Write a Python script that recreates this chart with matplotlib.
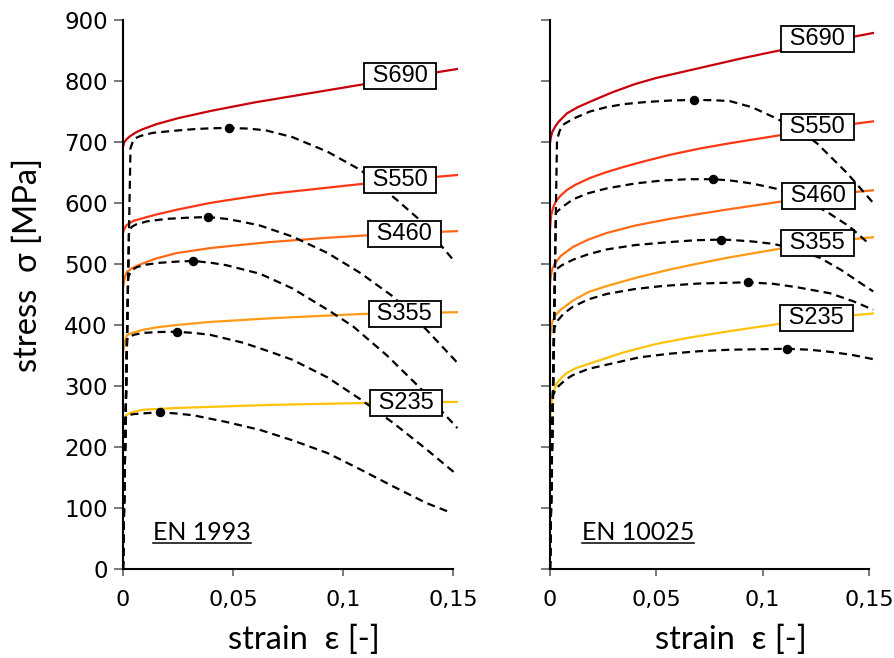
import matplotlib
matplotlib.use('Agg')
import matplotlib.pyplot as plt
from matplotlib.lines import Line2D
from matplotlib.transforms import IdentityTransform

grades = ['S690', 'S550', 'S460', 'S355', 'S235']
colors = ['#c8000c', '#ff3614', '#ff6a14', '#ff9a14', '#ffc20a']

# EN 1993 (left) - solid curves
en1993_solid_eps = [
    [0, 0.0005, 0.0015, 0.003, 0.006, 0.009, 0.015, 0.025, 0.04, 0.06, 0.08, 0.1, 0.125, 0.1525],
    [0, 0.0008, 0.0015, 0.003, 0.005, 0.009, 0.015, 0.0245, 0.0395, 0.05, 0.067, 0.085, 0.108, 0.13, 0.1525],
    [0, 0.0008, 0.0018, 0.004, 0.009, 0.015, 0.0245, 0.0395, 0.05, 0.067, 0.093, 0.12, 0.1525],
    [0, 0.0008, 0.0018, 0.004, 0.009, 0.015, 0.0245, 0.0395, 0.067, 0.108, 0.1525],
    [0, 0.0006, 0.0014, 0.004, 0.009, 0.0245, 0.067, 0.108, 0.1525],
]
en1993_solid_sig = [
    [692, 699, 704, 709, 716, 721, 729, 739, 751, 765, 777, 789, 804, 820],
    [551, 559, 563, 567, 571, 575, 581, 589, 600, 606, 615, 622, 631, 639, 646],
    [461, 478, 487, 493, 501, 509, 518, 526, 530, 536, 543, 549, 554],
    [354, 373, 383, 387, 392, 396, 400, 405, 411, 418, 421],
    [233, 245, 252, 257, 261, 264, 269, 272, 274],
]
# EN 1993 (left) - dashed curves
en1993_dash_eps = [
    [0, 0.0034, 0.0045, 0.0055, 0.008, 0.0136, 0.022, 0.032, 0.04, 0.048, 0.057, 0.065,
     0.077, 0.093, 0.108, 0.1245, 0.134, 0.151],
    [0, 0.0027, 0.004, 0.006, 0.011, 0.02, 0.03, 0.0386, 0.047, 0.0545, 0.0623, 0.077,
     0.093, 0.108, 0.123, 0.138, 0.152],
    [0, 0.0023, 0.004, 0.0064, 0.0105, 0.0168, 0.025, 0.032, 0.04, 0.047, 0.0623, 0.077,
     0.093, 0.1045, 0.12, 0.135, 0.152],
    [0, 0.0018, 0.0023, 0.005, 0.009, 0.0165, 0.0245, 0.032, 0.0395, 0.0545, 0.067, 0.077,
     0.093, 0.108, 0.123, 0.138, 0.152],
    [0, 0.0012, 0.002, 0.005, 0.009, 0.0168, 0.024, 0.032, 0.047, 0.0623, 0.077, 0.093,
     0.108, 0.123, 0.138, 0.1486],
]
en1993_dash_sig = [
    [0, 690, 701, 706, 710, 715, 718, 721, 722.5, 723, 722, 719, 708, 684, 654, 605, 575, 503],
    [0, 553, 561, 565, 570, 574, 576, 577, 574, 569, 563, 545, 518, 485, 446, 392, 338],
    [0, 478, 490, 495, 499, 502, 504, 505, 502, 498, 484, 460, 425, 398, 350, 297, 231],
    [0, 375, 380, 384, 387, 388.5, 389, 387, 384, 371, 356, 343, 314, 278, 239, 196, 154],
    [0, 247, 252, 254, 255, 257, 255, 252, 241, 228, 211, 190, 163, 135, 108, 93],
]
en1993_peak_eps = [0.048, 0.0386, 0.032, 0.0245, 0.0168]
en1993_peak_sig = [723, 577, 505, 389, 257]

# EN 10025 (right) - solid curves
en10025_solid_eps = [
    [0, 0.0003, 0.001, 0.0024, 0.004, 0.008, 0.013, 0.0188, 0.0297, 0.04, 0.05, 0.0625,
     0.075, 0.09, 0.105, 0.125, 0.1434, 0.1524],
    [0, 0.0003, 0.0006, 0.001, 0.0016, 0.003, 0.005, 0.0078, 0.012, 0.0188, 0.026, 0.0345,
     0.045, 0.0564, 0.07, 0.0846, 0.108, 0.125, 0.1434, 0.1524],
    [0, 0.0003, 0.0006, 0.0012, 0.0024, 0.005, 0.0108, 0.018, 0.0268, 0.04, 0.0564, 0.07,
     0.0846, 0.108, 0.125, 0.1434, 0.1524],
    [0, 0.0003, 0.0006, 0.0012, 0.0024, 0.005, 0.0108, 0.018, 0.0268, 0.04, 0.0564, 0.07,
     0.0846, 0.108, 0.125, 0.1434, 0.1524],
    [0, 0.0003, 0.0008, 0.0018, 0.0033, 0.0055, 0.0078, 0.012, 0.0188, 0.0345, 0.05, 0.065,
     0.0846, 0.108, 0.125, 0.1425, 0.1524],
]
en10025_solid_sig = [
    [698, 706, 716, 725, 733, 747, 757, 766, 782, 795, 805, 815, 825, 837, 848, 861, 873, 879],
    [556, 570, 580, 586, 594, 604, 612, 621, 630, 641, 650, 659, 669, 679, 689, 698, 711,
     721, 730, 734],
    [466, 477, 485, 493, 501, 513, 528, 540, 551, 563, 574, 582, 590, 602, 610, 618, 621],
    [378, 390, 398, 406, 415, 425, 440, 454, 464, 477, 491, 501, 511, 525, 533, 541, 544],
    [240, 258, 275, 292, 305, 314, 321, 329, 337, 355, 369, 379, 390, 402, 410, 416, 419],
]
# EN 10025 (right) - dashed curves
en10025_dash_eps = [
    [0, 0.0033, 0.0045, 0.006, 0.0108, 0.0188, 0.0264, 0.0345, 0.045, 0.0564, 0.0677, 0.077,
     0.0846, 0.095, 0.105, 0.116, 0.1255, 0.1397, 0.152],
    [0, 0.0028, 0.0056, 0.0108, 0.018, 0.0268, 0.04, 0.053, 0.065, 0.0766, 0.0846, 0.095,
     0.107, 0.118, 0.130, 0.141, 0.1497],
    [0, 0.0024, 0.0056, 0.0108, 0.018, 0.0268, 0.04, 0.0564, 0.0685, 0.0804, 0.0846, 0.095,
     0.105, 0.116, 0.127, 0.137, 0.1472, 0.152],
    [0, 0.002, 0.0038, 0.0065, 0.0108, 0.018, 0.0268, 0.04, 0.053, 0.07, 0.0931, 0.105,
     0.116, 0.1317, 0.1425, 0.152],
    [0, 0.0014, 0.003, 0.0047, 0.0075, 0.0108, 0.018, 0.0268, 0.042, 0.0564, 0.07, 0.0846,
     0.1114, 0.122, 0.1317, 0.142, 0.152],
]
en10025_dash_sig = [
    [0, 703, 718, 728, 738, 750, 757, 762, 765.5, 768, 769, 768.5, 767, 757, 741, 722, 698,
     649, 600],
    [0, 584, 593, 606, 616, 624, 632, 637, 639, 639, 637, 632, 623, 607, 586, 561, 534],
    [0, 490, 498, 507, 516, 524, 531, 536, 539, 540, 539.5, 537, 533, 524, 510, 490, 466, 455],
    [0, 395, 408, 419, 430, 442, 451, 459, 464, 468, 470, 467.5, 462, 452, 439, 425],
    [0, 285, 296, 302, 311, 318, 328, 335, 347, 353, 357, 359.5, 361, 359.5, 356, 351, 344],
]
en10025_peak_eps = [0.0677, 0.0766, 0.0804, 0.0931, 0.1114]
en10025_peak_sig = [769, 639, 540, 470, 361]

# label box positions (strain, stress)
en1993_label_pos = [(0.126, 808), (0.126, 638), (0.128, 549), (0.128, 418), (0.1287, 272)]
en10025_label_pos = [(0.1258, 869), (0.1258, 724), (0.1262, 611), (0.1258, 534), (0.1253, 412)]

xticks = [0, 0.05, 0.1, 0.15]
xticklabels = ['0', '0,05', '0,1', '0,15']
yticks = [0, 100, 200, 300, 400, 500, 600, 700, 800, 900]

label_font = ['Lato', 'DejaVu Sans']

fig = plt.figure(figsize=(8.94, 6.58), dpi=100)
ax1 = fig.add_axes([0.13758, 0.13526, 0.37528, 0.83435])
ax2 = fig.add_axes([0.61521, 0.13526, 0.36277, 0.83435])

panels = [
    (ax1, en1993_solid_eps, en1993_solid_sig, en1993_dash_eps, en1993_dash_sig,
     en1993_peak_eps, en1993_peak_sig, en1993_label_pos, 'EN 1993', 0.0136),
    (ax2, en10025_solid_eps, en10025_solid_sig, en10025_dash_eps, en10025_dash_sig,
     en10025_peak_eps, en10025_peak_sig, en10025_label_pos, 'EN 10025', 0.015),
]

en_texts = []
for (ax, s_eps, s_sig, d_eps, d_sig, p_eps, p_sig, lpos, title, tx) in panels:
    for i in range(len(grades)):
        ax.plot(s_eps[i], s_sig[i], color=colors[i], lw=1.6, zorder=2,
                solid_capstyle='butt', solid_joinstyle='round')
        ln, = ax.plot(d_eps[i], d_sig[i], color='black', lw=1.6, zorder=3)
        ln.set_dashes((3.6, 2.3))
        ax.plot(p_eps[i], p_sig[i], 'o', color='black', ms=5.8, zorder=4)
        ax.text(lpos[i][0], lpos[i][1], ' ' + grades[i] + ' ', family='Liberation Sans',
                fontsize=17, ha='center', va='center', zorder=6,
                bbox=dict(boxstyle='square,pad=0.08', fc='white', ec='black', lw=1.3))
    t = ax.text(tx, 47.5, title, family=label_font, fontsize=18, ha='left',
                va='baseline', zorder=5)
    en_texts.append(t)

    ax.set_xlim(0, 0.1525)
    ax.set_ylim(0, 900)
    for side in ['top', 'right']:
        ax.spines[side].set_visible(False)
    for side in ['left', 'bottom']:
        ax.spines[side].set_linewidth(1.5)
    ax.spines['bottom'].set_bounds(0, 0.15)
    ax.set_xticks(xticks)
    ax.set_xticklabels(xticklabels, family='DejaVu Sans', fontsize=16)
    ax.set_yticks(yticks)
    ax.tick_params(axis='x', length=5, width=1.1, color='#555555', pad=10)
    ax.tick_params(axis='y', length=6.5, width=1.1, color='#555555', pad=4.5)

ax1.set_yticklabels([str(v) for v in yticks], family='DejaVu Sans', fontsize=16.5)
ax2.set_yticklabels([])

fig.text(28 / 894, 0.597, 'stress  σ [MPa]', family=label_font, fontsize=23.5,
         rotation=90, ha='center', va='center')
fig.text(304 / 894, 0.027, 'strain  ε [-]', family=label_font, fontsize=23.5,
         ha='center', va='center')
fig.text(731 / 894, 0.027, 'strain  ε [-]', family=label_font, fontsize=23.5,
         ha='center', va='center')

# underline the standard names
fig.canvas.draw()
renderer = fig.canvas.get_renderer()
for t in en_texts:
    bb = t.get_window_extent(renderer)
    fig.add_artist(Line2D([bb.x0, bb.x1], [bb.y0 + 1, bb.y0 + 1], color='black',
                          lw=1.1, transform=IdentityTransform()))

fig.savefig('out.png', dpi=100)
